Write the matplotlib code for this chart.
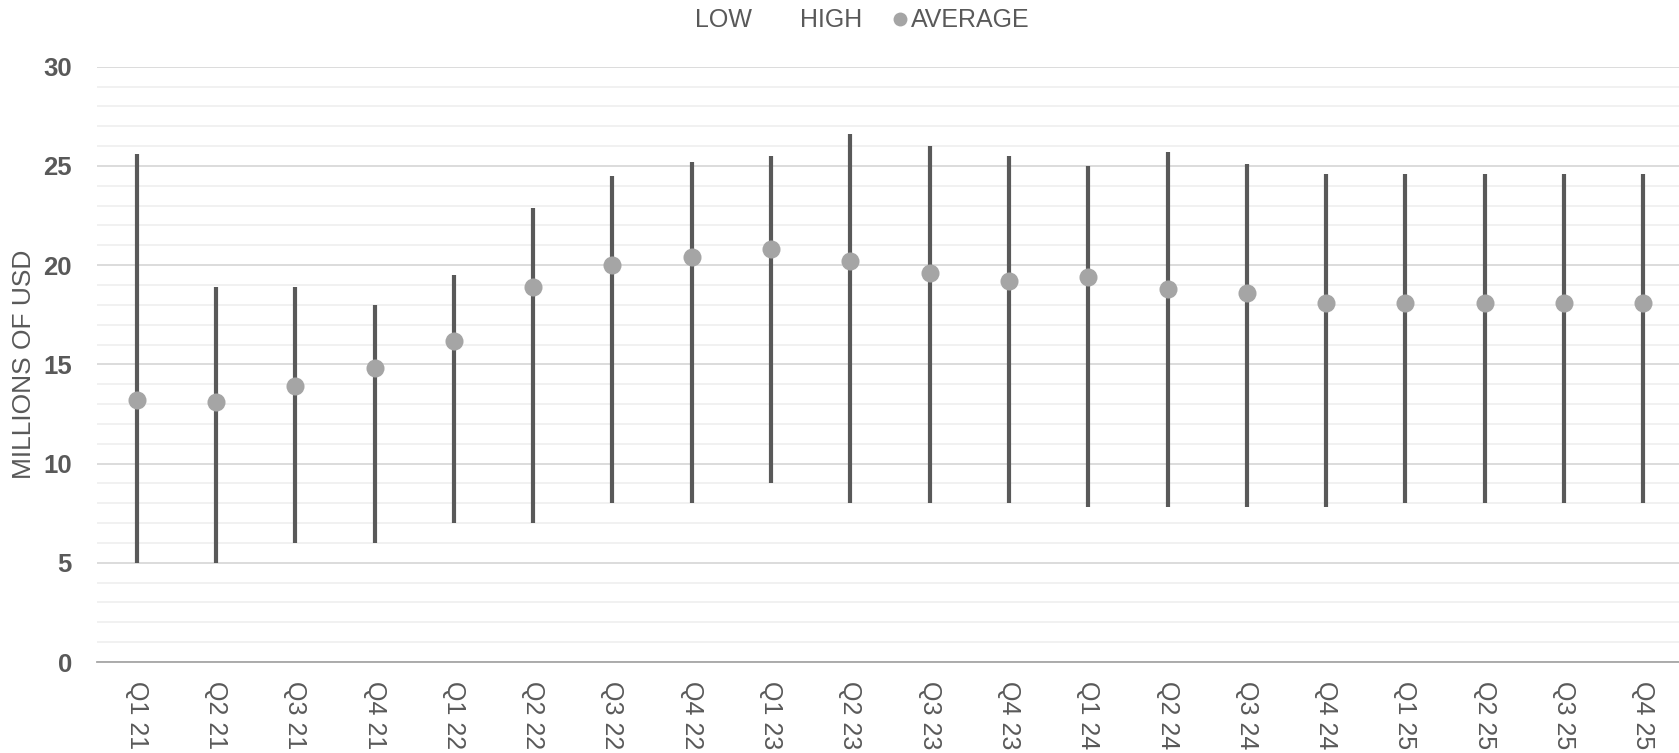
import matplotlib
matplotlib.use("Agg")
import matplotlib.pyplot as plt
from matplotlib.lines import Line2D
from matplotlib.ticker import MultipleLocator

plt.rcParams["font.family"] = ["Liberation Sans", "DejaVu Sans"]

# Quarterly price range (millions of USD)
quarters = ["Q1 21", "Q2 21", "Q3 21", "Q4 21", "Q1 22", "Q2 22", "Q3 22", "Q4 22",
            "Q1 23", "Q2 23", "Q3 23", "Q4 23", "Q1 24", "Q2 24", "Q3 24", "Q4 24",
            "Q1 25", "Q2 25", "Q3 25", "Q4 25"]
low = [5.0, 5.0, 6.0, 6.0, 7.0, 7.0, 8.0, 8.0, 9.0, 8.0,
       8.0, 8.0, 7.8, 7.8, 7.8, 7.8, 8.0, 8.0, 8.0, 8.0]
high = [25.6, 18.9, 18.9, 18.0, 19.5, 22.9, 24.5, 25.2, 25.5, 26.6,
        26.0, 25.5, 25.0, 25.7, 25.1, 24.6, 24.6, 24.6, 24.6, 24.6]
average = [13.2, 13.1, 13.9, 14.8, 16.2, 18.9, 20.0, 20.4, 20.8, 20.2,
           19.6, 19.2, 19.4, 18.8, 18.6, 18.1, 18.1, 18.1, 18.1, 18.1]

TEXT = "#595959"
BAR = "#595959"
DOT = "#a5a5a5"

fig = plt.figure(figsize=(16.79, 7.53), dpi=100)
ax = fig.add_axes([97 / 1679, 91 / 753, 1 - 97 / 1679, 595.3 / 753])

x = range(len(quarters))
ax.vlines(x, low, high, color=BAR, linewidth=3.0, zorder=3)
ax.plot(x, average, linestyle="none", marker="o", markersize=13,
        color=DOT, markeredgewidth=0, zorder=4)

ax.set_ylim(0, 30)
ax.set_xlim(-0.5, 19.45)
ax.yaxis.set_major_locator(MultipleLocator(5))
ax.yaxis.set_minor_locator(MultipleLocator(1))
ax.grid(axis="y", which="major", color="#d9d9d9", linewidth=1.3, zorder=0)
ax.grid(axis="y", which="minor", color="#f0f0f0", linewidth=1.3, zorder=0)
ax.set_axisbelow(True)

for side in ["top", "right", "left"]:
    ax.spines[side].set_visible(False)
ax.spines["bottom"].set_color("#a6a6a6")
ax.spines["bottom"].set_linewidth(1.3)

ax.set_xticks(list(x))
ax.set_xticklabels(quarters, rotation=-90, fontsize=18, color=TEXT, va="top", ha="center")
ax.tick_params(axis="x", length=0, pad=14)
ax.tick_params(axis="y", which="both", length=0, pad=18, labelsize=18.5, labelcolor=TEXT)
for lbl in ax.get_yticklabels():
    lbl.set_fontweight("bold")

ax.set_ylabel("MILLIONS OF USD", fontsize=19, color=TEXT)
ax.yaxis.set_label_coords(-0.0385, 0.5)

handles = [
    Line2D([], [], linestyle="none"),
    Line2D([], [], linestyle="none"),
    Line2D([], [], linestyle="none", marker="o", markersize=10, color=DOT, markeredgewidth=0),
]
fig.legend(handles, ["LOW", "HIGH", "AVERAGE"], loc="center", bbox_to_anchor=(0.508, 0.973),
           ncol=3, frameon=False, fontsize=18, labelcolor=TEXT, handlelength=0.6,
           handletextpad=0.15, columnspacing=1.2)

fig.savefig("out.png", dpi=100)
